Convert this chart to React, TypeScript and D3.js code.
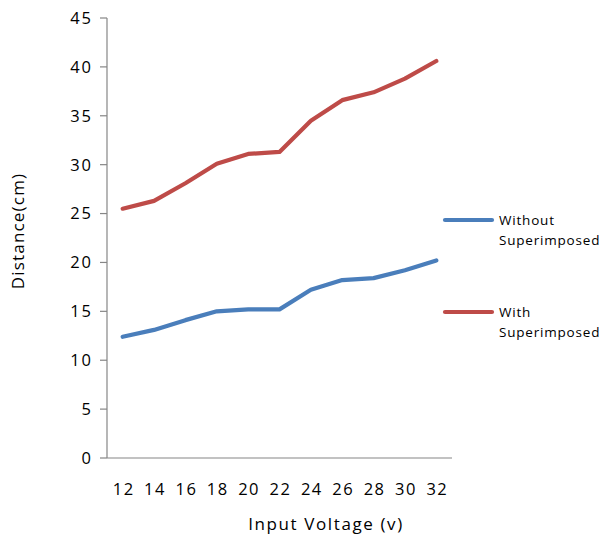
import React from "react";
import * as d3 from "d3";

const categories = ["12", "14", "16", "18", "20", "22", "24", "26", "28", "30", "32"];
const withoutSuper = [12.4, 13.1, 14.1, 15.0, 15.2, 15.2, 17.2, 18.2, 18.4, 19.2, 20.2];
const withSuper = [25.5, 26.3, 28.1, 30.1, 31.1, 31.3, 34.5, 36.6, 37.4, 38.8, 40.6];
const yTicks = [0, 5, 10, 15, 20, 25, 30, 35, 40, 45];

const series = [
  { name: ["Without", "Superimposed"], values: withoutSuper, color: "#4A7EBB" },
  { name: ["With", "Superimposed"], values: withSuper, color: "#BE4B48" },
];

export default function App() {
  const W = 603, H = 537;
  const left = 107, right = 452, top = 18, bottom = 458;
  const x = d3.scaleBand<string>().domain(categories).range([left, right]);
  const y = d3.scaleLinear().domain([0, 45]).range([bottom, top]);
  const line = (vals: number[]) =>
    d3.line<number>()
      .x((_, i) => (x(categories[i]) as number) + x.bandwidth() / 2)
      .y((d) => y(d))(vals) as string;
  const font = "'Open Sans', sans-serif";
  const legendY = [220, 312];
  return (
    <svg width={W} height={H} style={{ position: "absolute", left: 0, top: 0 }} fontFamily={font}>
      <rect width={W} height={H} fill="#fff" />
      <line x1={left} x2={left} y1={top} y2={bottom} stroke="#868686" strokeWidth={1.2} />
      {yTicks.map((t) => (
        <g key={t}>
          <line x1={left - 7} x2={left} y1={y(t)} y2={y(t)} stroke="#868686" strokeWidth={1.2} />
          <text x={left - 14} y={y(t)} dy="0.36em" textAnchor="end" fontSize={16.5} letterSpacing={2} fill="#000">
            {t}
          </text>
        </g>
      ))}
      <line x1={left} x2={right} y1={bottom} y2={bottom} stroke="#868686" strokeWidth={1.2} />
      {categories.map((c) => (
        <text key={c} x={(x(c) as number) + x.bandwidth() / 2 + 1} y={495} textAnchor="middle" fontSize={16.5} letterSpacing={1.5} fill="#000">
          {c}
        </text>
      ))}
      <text x={326} y={530} textAnchor="middle" fontSize={17} letterSpacing={1.6} fill="#000">
        Input Voltage (v)
      </text>
      <text transform={`translate(24,231) rotate(-90)`} textAnchor="middle" fontSize={17} letterSpacing={1.2} fill="#000">
        Distance(cm)
      </text>
      {series.map((s) => (
        <path key={s.color} d={line(s.values)} fill="none" stroke={s.color} strokeWidth={4.2} strokeLinejoin="round" strokeLinecap="round" />
      ))}
      {series.map((s, i) => (
        <g key={"l" + i}>
          <line x1={445} x2={492} y1={legendY[i]} y2={legendY[i]} stroke={s.color} strokeWidth={4.2} strokeLinecap="round" />
          <text x={499} y={legendY[i] + 5} fontSize={13.5} letterSpacing={0.8} fill="#000">{s.name[0]}</text>
          <text x={499} y={legendY[i] + 25} fontSize={13.5} letterSpacing={0.8} fill="#000">{s.name[1]}</text>
        </g>
      ))}
    </svg>
  );
}
